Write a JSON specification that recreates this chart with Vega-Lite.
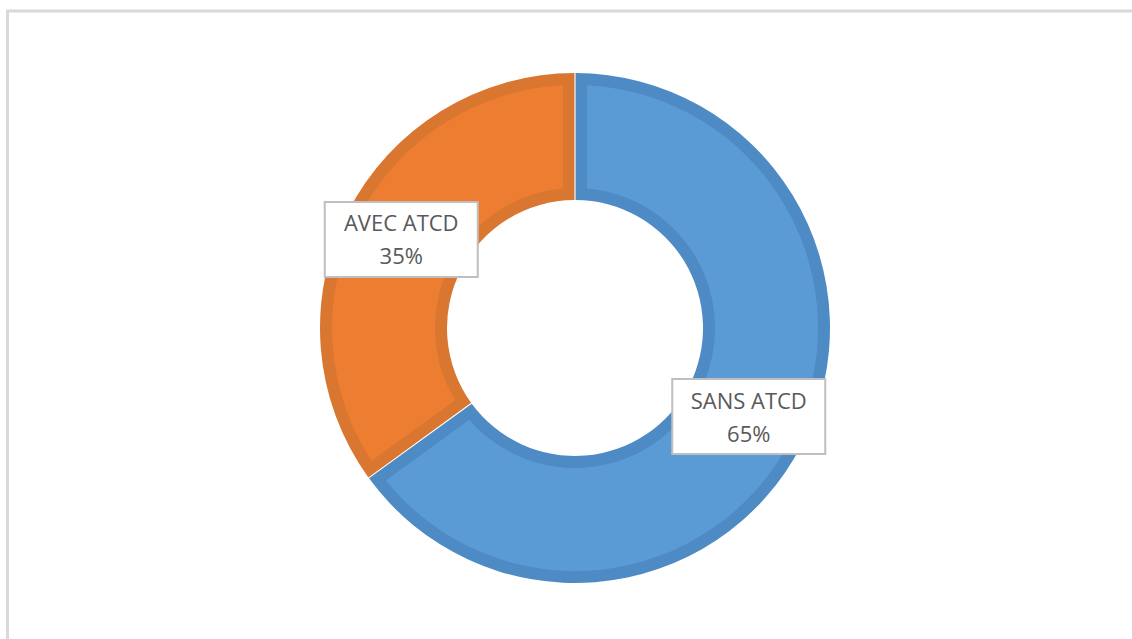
{
  "$schema": "https://vega.github.io/schema/vega-lite/v6.json",
  "autosize": "none",
  "width": 1135,
  "height": 634,
  "padding": {"left": 7.5, "top": 11, "right": -10.5, "bottom": -6},
  "background": "white",
  "config": {"view": {"stroke": "#D9D9D9", "strokeWidth": 3}},
  "data": {
    "values": [
      {"category": "SANS ATCD", "value": 65},
      {"category": "AVEC ATCD", "value": 35}
    ]
  },
  "layer": [
    {
      "mark": {"type": "arc", "radius": 255, "radius2": 128, "padAngle": 0.004},
      "encoding": {
        "theta": {"field": "value", "type": "quantitative", "stack": true},
        "order": {"field": "category", "sort": "descending"},
        "color": {
          "field": "category",
          "type": "nominal",
          "scale": {"domain": ["SANS ATCD", "AVEC ATCD"], "range": ["#4E8AC4", "#D97630"]},
          "legend": null
        }
      }
    },
    {
      "mark": {"type": "arc", "radius": 243, "radius2": 140, "padAngle": 0.086},
      "encoding": {
        "theta": {"field": "value", "type": "quantitative", "stack": true},
        "order": {"field": "category", "sort": "descending"},
        "fill": {
          "field": "category",
          "type": "nominal",
          "scale": {"domain": ["SANS ATCD", "AVEC ATCD"], "range": ["#5B9BD5", "#ED7D31"]},
          "legend": null
        }
      }
    },
    {
      "transform": [
        {"stack": "value", "groupby": [], "sort": [{"field": "category", "order": "descending"}], "as": ["v0", "v1"]},
        {"calculate": "PI*(datum.v0+datum.v1)/100", "as": "mid"},
        {"calculate": "195*sin(datum.mid)", "as": "px"},
        {"calculate": "195*cos(datum.mid)", "as": "py"}
      ],
      "mark": {
        "type": "point",
        "shape": "M-1,-0.49L1,-0.49L1,0.49L-1,0.49Z",
        "size": 23409,
        "filled": true,
        "fill": "white",
        "stroke": "#BFBFBF",
        "strokeWidth": 2,
        "opacity": 1
      },
      "encoding": {
        "x": {"field": "px", "type": "quantitative", "scale": {"domain": [-567.5, 567.5], "nice": false, "zero": false}, "axis": null},
        "y": {"field": "py", "type": "quantitative", "scale": {"domain": [-317, 317], "nice": false, "zero": false}, "axis": null}
      }
    },
    {
      "transform": [
        {"stack": "value", "groupby": [], "sort": [{"field": "category", "order": "descending"}], "as": ["v0", "v1"]},
        {"calculate": "PI*(datum.v0+datum.v1)/100", "as": "mid"},
        {"calculate": "195*sin(datum.mid)", "as": "px"},
        {"calculate": "195*cos(datum.mid)", "as": "py"},
        {"calculate": "datum.category + '\\n' + datum.value + '%'", "as": "label"}
      ],
      "mark": {
        "type": "text",
        "font": "Open Sans",
        "fontSize": 22,
        "fill": "#595959",
        "lineBreak": "\n",
        "lineHeight": 33,
        "align": "center",
        "baseline": "middle",
        "dy": -15
      },
      "encoding": {
        "x": {"field": "px", "type": "quantitative", "scale": {"domain": [-567.5, 567.5], "nice": false, "zero": false}, "axis": null},
        "y": {"field": "py", "type": "quantitative", "scale": {"domain": [-317, 317], "nice": false, "zero": false}, "axis": null},
        "text": {"field": "label"}
      }
    }
  ],
  "resolve": {"scale": {"color": "independent", "fill": "independent"}}
}
